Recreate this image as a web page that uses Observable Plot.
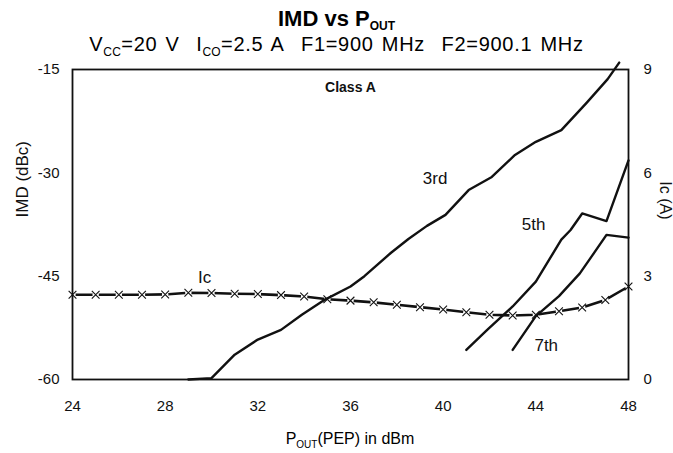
<!DOCTYPE html>
<html>
<head>
<meta charset="utf-8">
<script src="https://cdn.jsdelivr.net/npm/d3@7"></script>
<script src="https://cdn.jsdelivr.net/npm/@observablehq/plot@0.6"></script>
<style>
  html, body { margin: 0; padding: 0; background: #fff; }
  body { position: relative; width: 673px; height: 453px; overflow: hidden; font-family: "Liberation Sans", Arial, sans-serif; color: #000; }
  .t { position: absolute; left: 0; width: 673px; text-align: center; white-space: nowrap; }
  #title { top: 8px; font-weight: bold; font-size: 22px; line-height: 22px; }
  #title sub { font-size: 12px; vertical-align: -4px; line-height: 0; }
  #subtitle { top: 34px; font-size: 20px; line-height: 20px; letter-spacing: 0.7px; word-spacing: 2px; }
  #subtitle sub { font-size: 12px; vertical-align: -5px; line-height: 0; letter-spacing: 0.3px; }
  #xlabel { top: 431px; left: 72px; width: 556px; font-size: 16px; line-height: 16px; }
  #xlabel sub { font-size: 10px; vertical-align: -4px; line-height: 0; }
  #chart { position: absolute; left: 0; top: 60px; }
</style>
</head>
<body>
<div id="title" class="t">IMD vs P<sub>OUT</sub></div>
<div id="subtitle" class="t">V<sub>CC</sub>=20 V&nbsp; I<sub>CO</sub>=2.5 A&nbsp; F1=900 MHz&nbsp; F2=900.1 MHz</div>
<div id="chart"></div>
<div id="xlabel" class="t">P<sub>OUT</sub>(PEP) in dBm</div>
<script>
// ---- data ----
const pout = [24,25,26,27,28,29,30,31,32,33,34,35,36,37,38,39,40,41,42,43,44,45,46,47,48];
const ic   = [2.46,2.46,2.46,2.46,2.47,2.52,2.51,2.49,2.48,2.45,2.41,2.33,2.29,2.24,2.17,2.10,2.03,1.95,1.88,1.86,1.88,1.98,2.09,2.31,2.70];

const imd3X = [29,30,31,32,33,33.9,34.9,36,36.6,37.75,38.5,39.3,40.1,41.1,42.1,43.1,44,45.1,46.2,47.1,47.6];
const imd3Y = [-60,-59.8,-56.4,-54.2,-52.8,-50.6,-48.4,-46.5,-45.0,-41.6,-39.6,-37.7,-36.1,-32.5,-30.6,-27.4,-25.5,-23.8,-19.8,-16.4,-14.0];

const imd5X = [41.0,41.9,43.0,44.0,45.1,45.5,46.0,47.05,48.0];
const imd5Y = [-55.7,-52.8,-49.4,-45.8,-39.7,-38.3,-35.9,-37.0,-28.2];

const imd7X = [43.0,44.0,45.0,45.9,46.5,47.05,48.0];
const imd7Y = [-55.7,-50.8,-47.9,-44.6,-41.7,-39.0,-39.4];

const xTicks = [24,28,32,36,40,44,48];
const imdTicks = [-60,-45,-30,-15];
const icTicks = [0,3,6,9];

const notes = ["Class A","3rd","5th","7th","Ic"];
const noteX = [36.0,39.65,43.9,44.45,29.7];
const noteY = [-17.6,-30.85,-37.5,-55.1,-45.2];

// ---- build ----
const imdMin = -60, imdMax = -15, icMax = 9;
const icToImd = v => imdMin + v * (imdMax - imdMin) / icMax;
const imdToIc = v => (v - imdMin) * icMax / (imdMax - imdMin);

const icData = pout.map((p, i) => ({p, ic: ic[i]}));
const zip = (xs, ys) => xs.map((x, i) => ({x, y: ys[i]}));
const s3 = zip(imd3X, imd3Y), s5 = zip(imd5X, imd5Y), s7 = zip(imd7X, imd7Y);
const noteData = notes.map((t, i) => ({t, x: noteX[i], y: noteY[i], bold: i === 0}));

const ink = "#111";
const chart = Plot.plot({
  width: 673,
  height: 360,
  marginTop: 9,
  marginBottom: 41,
  marginLeft: 72,
  marginRight: 45,
  style: {fontFamily: "Liberation Sans, Arial, sans-serif", fontSize: "15px", color: ink, background: "white"},
  x: {domain: [24, 48]},
  y: {domain: [imdMin, imdMax]},
  marks: [
    Plot.axisX({ticks: xTicks, tickFormat: d => String(d), tickSize: 0, tickPadding: 21, label: null, fontSize: 15}),
    Plot.axisY({ticks: imdTicks, tickFormat: d => String(d), tickSize: 0, tickPadding: 13, label: null, fontSize: 15}),
    Plot.axisY({anchor: "right", ticks: icTicks.map(icToImd), tickFormat: d => String(Math.round(imdToIc(d))), tickSize: 0, tickPadding: 15, label: null, fontSize: 15}),
    Plot.line(icData, {x: "p", y: d => icToImd(d.ic), stroke: ink, strokeWidth: 2.6}),
    Plot.dot(icData, {x: "p", y: d => icToImd(d.ic), r: 3.2, fill: "white", stroke: null}),
    Plot.line(s3, {x: "x", y: "y", stroke: ink, strokeWidth: 2.4}),
    Plot.line(s5, {x: "x", y: "y", stroke: ink, strokeWidth: 2.4}),
    Plot.line(s7, {x: "x", y: "y", stroke: ink, strokeWidth: 2.4}),
    Plot.dot(icData, {x: "p", y: d => icToImd(d.ic), symbol: "times", r: 3.6, stroke: ink, strokeWidth: 1.1}),
    Plot.frame({stroke: ink, strokeWidth: 1.8}),
    Plot.text(noteData.filter(d => d.bold), {x: "x", y: "y", text: "t", fontSize: 14, fontWeight: "bold", fill: ink}),
    Plot.text(noteData.filter(d => !d.bold), {x: "x", y: "y", text: "t", fontSize: 17, fill: ink}),
    Plot.text(["IMD (dBc)"], {frameAnchor: "left", dx: -50, dy: -7, rotate: -90, fontSize: 17, fill: ink}),
    Plot.text(["Ic (A)"], {frameAnchor: "right", dx: 37, dy: -5, rotate: 90, fontSize: 16, fill: ink})
  ]
});
document.getElementById("chart").appendChild(chart);
</script>
</body>
</html>
